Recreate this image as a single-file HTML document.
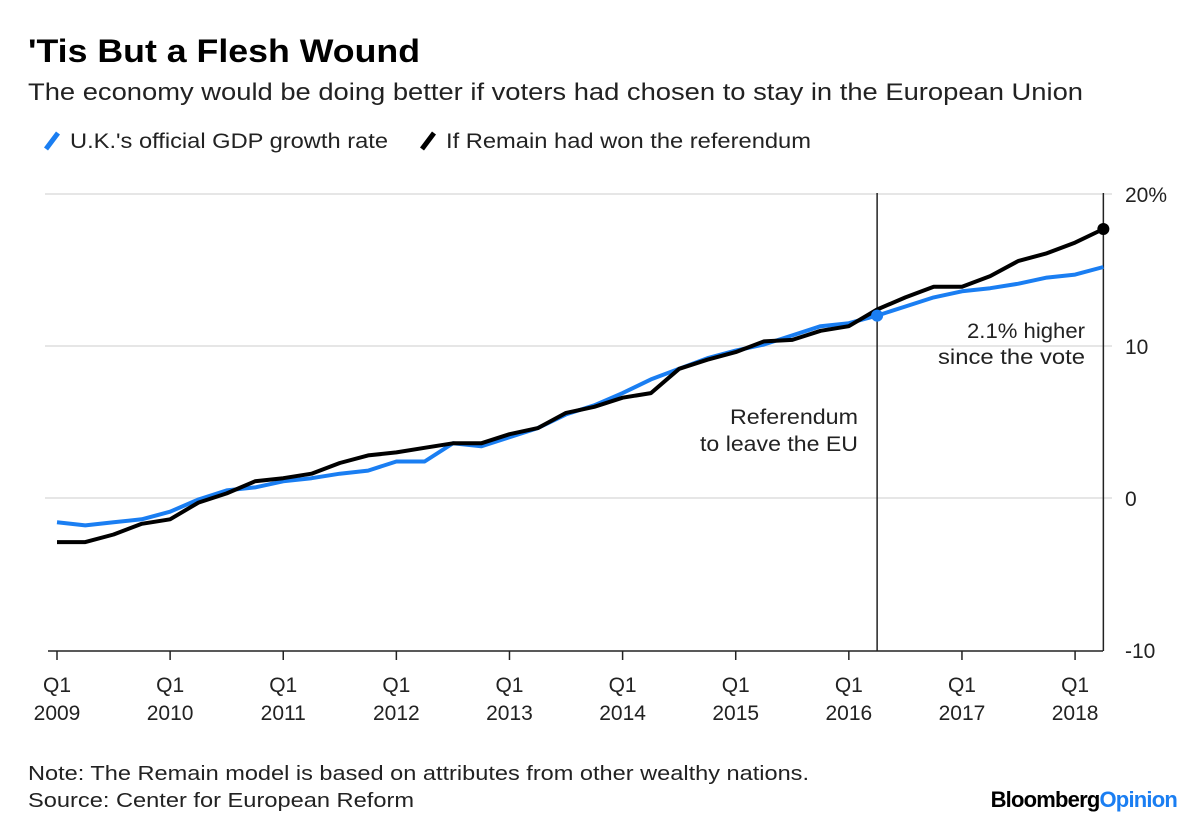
<!DOCTYPE html>
<html><head><meta charset="utf-8"><style>
body{margin:0;background:#fff;width:1200px;height:827px;overflow:hidden;font-family:"Liberation Sans",Arial,sans-serif;color:#000}
</style></head><body>
<svg width="1200" height="827" viewBox="0 0 1200 827" xmlns="http://www.w3.org/2000/svg" font-family="Liberation Sans, Arial, sans-serif">
<text x="28" y="62" font-size="32" font-weight="bold" textLength="392" lengthAdjust="spacingAndGlyphs">'Tis But a Flesh Wound</text>
<text x="28" y="100" font-size="24" fill="#222" textLength="1055" lengthAdjust="spacingAndGlyphs">The economy would be doing better if voters had chosen to stay in the European Union</text>
<g>
<line x1="46" y1="149" x2="58" y2="133" stroke="#1a7ef2" stroke-width="5"/>
<text x="70" y="148" font-size="21" fill="#222" textLength="318" lengthAdjust="spacingAndGlyphs">U.K.'s official GDP growth rate</text>
<line x1="422" y1="149" x2="434" y2="133" stroke="#000" stroke-width="5"/>
<text x="446" y="148" font-size="21" fill="#222" textLength="365" lengthAdjust="spacingAndGlyphs">If Remain had won the referendum</text>
</g>
<g id="grid"></g>
<g id="axes"></g>
<g id="series"></g>
<text x="28" y="780" font-size="20" fill="#222" textLength="781" lengthAdjust="spacingAndGlyphs">Note: The Remain model is based on attributes from other wealthy nations.</text>
<text x="28" y="807" font-size="20" fill="#222" textLength="386" lengthAdjust="spacingAndGlyphs">Source: Center for European Reform</text>
<text x="1177" y="807" font-size="22" font-weight="bold" text-anchor="end" letter-spacing="-0.8">Bloomberg<tspan fill="#1a7ef2">Opinion</tspan></text>
</svg>
<script>
const years=["2009","2010","2011","2012","2013","2014","2015","2016","2017","2018"];
const yTicks=[20,10,0,-10];
const ukSeries=[-1.6,-1.8,-1.6,-1.4,-0.9,-0.1,0.5,0.7,1.1,1.3,1.6,1.8,2.4,2.4,3.6,3.4,4.0,4.6,5.5,6.1,6.9,7.8,8.5,9.2,9.7,10.1,10.7,11.3,11.5,12.0,12.6,13.2,13.6,13.8,14.1,14.5,14.7,15.2];
const remainSeries=[-2.9,-2.9,-2.4,-1.7,-1.4,-0.3,0.3,1.1,1.3,1.6,2.3,2.8,3.0,3.3,3.6,3.6,4.2,4.6,5.6,6.0,6.6,6.9,8.5,9.1,9.6,10.3,10.4,11.0,11.3,12.4,13.2,13.9,13.9,14.6,15.6,16.1,16.8,17.7];
const referendumIndex=29;
const NS="http://www.w3.org/2000/svg";
const x=i=>57+i*28.28;
const y=v=>498-v*15.2;
function mk(tag,attrs,parent,txt){const e=document.createElementNS(NS,tag);for(const k in attrs)e.setAttribute(k,attrs[k]);if(txt!==undefined)e.textContent=txt;document.getElementById(parent).appendChild(e);return e;}
yTicks.forEach(t=>{
  if(t>-10){const g=mk('line',{x1:45,x2:1112,y1:y(t),y2:y(t),stroke:'#e6e6e6','stroke-width':2},'grid');
  
  }
  const l=mk('text',{x:1125,y:y(t)+8,'font-size':21,fill:'#222'},'axes',t===20?'20%':String(t));
  
  
});
const ax=mk('line',{x1:48,x2:1103,y1:651,y2:651,stroke:'#222','stroke-width':1.5},'axes');


years.forEach((yr,k)=>{
  const xx=x(k*4);
  const tk=mk('line',{x1:xx,x2:xx,y1:651,y2:660,stroke:'#222','stroke-width':1.5},'axes');
  
  
  const t1=mk('text',{x:xx,y:692,'font-size':21,'text-anchor':'middle',fill:'#222'},'axes','Q1');
  
  
  const t2=mk('text',{x:xx,y:720,'font-size':21,'text-anchor':'middle',fill:'#222'},'axes',yr);
  
  
});
const rx=x(referendumIndex), ex=x(ukSeries.length-1);
const rl=mk('line',{x1:rx,x2:rx,y1:193,y2:651,stroke:'#222','stroke-width':1.5},'axes');


const el=mk('line',{x1:ex,x2:ex,y1:193,y2:651,stroke:'#222','stroke-width':1.5},'axes');


[['Referendum',424,128],['to leave the EU',451,158]].forEach(a=>{const t=mk('text',{x:858,y:a[1],'font-size':21,'text-anchor':'end',fill:'#222',textLength:a[2],lengthAdjust:'spacingAndGlyphs'},'axes',a[0]);

});
[['2.1% higher',338,118],['since the vote',364,147]].forEach(a=>{const t=mk('text',{x:1085,y:a[1],'font-size':21,'text-anchor':'end',fill:'#222',textLength:a[2],lengthAdjust:'spacingAndGlyphs'},'axes',a[0]);

});
function pts(s){return s.map((v,i)=>x(i).toFixed(1)+','+y(v).toFixed(1)).join(' ');}
const pu=mk('polyline',{points:pts(ukSeries),fill:'none',stroke:'#1a7ef2','stroke-width':4,'stroke-linejoin':'round'},'series');


const pr=mk('polyline',{points:pts(remainSeries),fill:'none',stroke:'#000','stroke-width':4,'stroke-linejoin':'round'},'series');


const d1=mk('circle',{cx:rx,cy:y(ukSeries[referendumIndex]),r:6,fill:'#1a7ef2'},'series');


const d2=mk('circle',{cx:ex,cy:y(remainSeries[remainSeries.length-1]),r:6,fill:'#000'},'series');


</script>
</body></html>
